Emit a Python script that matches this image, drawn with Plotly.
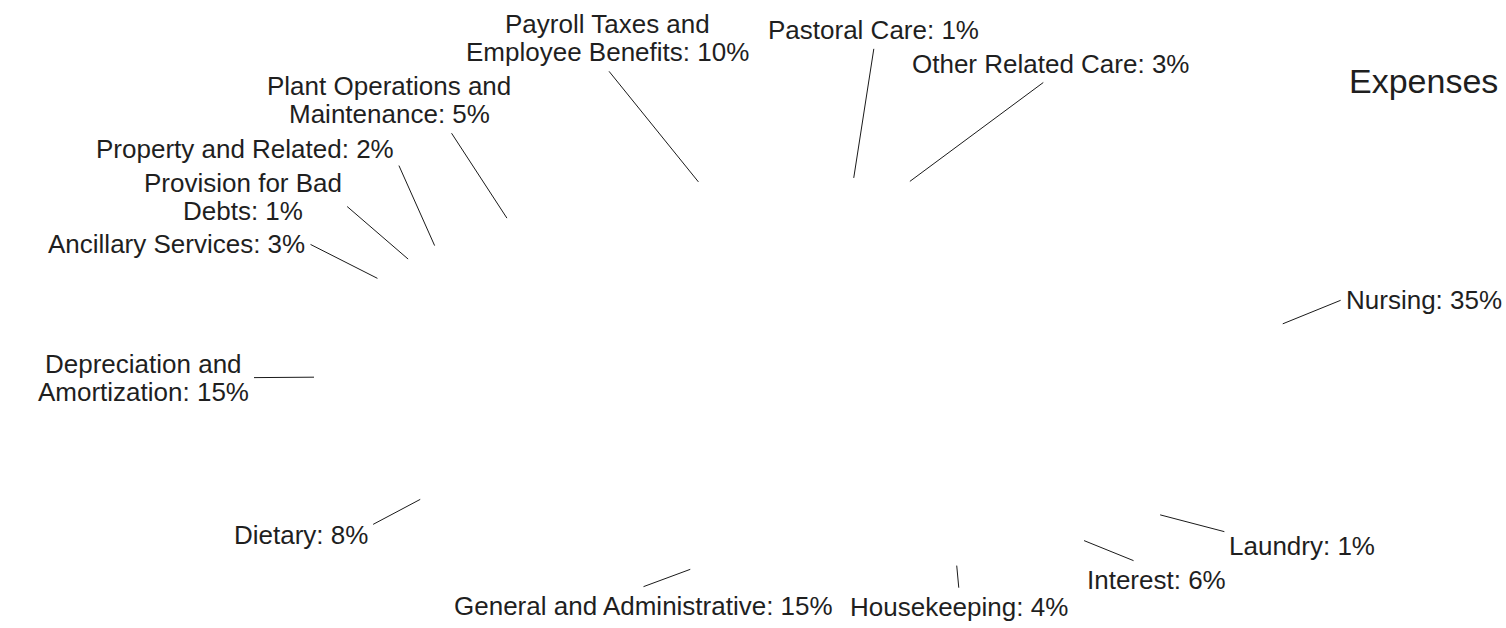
import math
import plotly.graph_objects as go

# ---- data ----
categories = ["Nursing", "Laundry", "Interest", "Housekeeping",
              "General and Administrative", "Dietary",
              "Depreciation and Amortization", "Ancillary Services",
              "Provision for Bad Debts", "Property and Related",
              "Plant Operations and Maintenance",
              "Payroll Taxes and Employee Benefits", "Pastoral Care",
              "Other Related Care"]
values = [35, 1, 6, 4, 15, 8, 15, 3, 1, 2, 5, 10, 1, 3]
label_lines = [["Nursing"], ["Laundry"], ["Interest"], ["Housekeeping"],
               ["General and Administrative"], ["Dietary"],
               ["Depreciation and", "Amortization"], ["Ancillary Services"],
               ["Provision for Bad", "Debts"], ["Property and Related"],
               ["Plant Operations and", "Maintenance"],
               ["Payroll Taxes and", "Employee Benefits"], ["Pastoral Care"],
               ["Other Related Care"]]
title_text = "Expenses"

# ---- layout parameters ----
W, H = 1506, 628
CX, CY, RX, RY = 807, 376, 493, 199   # ellipse of the (white) pie, in px
OA, OB_TOP, OB_BOT = 553, 330, 218     # ellipse on which label anchors sit
START = 73.0                           # angle where the first slice starts
FS = 26
PITCH = 28
GAP = 5
TXT = "#1f1f1f"
FONT = "Liberation Sans, Arial, sans-serif"

GW = {c: .667 for c in "ABEKPSVXY"}
GW.update({c: .722 for c in "CDHNRUw"})
GW.update({c: .778 for c in "GOQ"})
GW.update({"F": .611, "T": .611, "Z": .611, "I": .278, "J": .5, "L": .556,
           "M": .833, "W": .944, "m": .833, "%": .889, "c": .5, "k": .5,
           "s": .5, "v": .5, "x": .5, "y": .5, "z": .5, "f": .278, "t": .278,
           "r": .333, "i": .222, "j": .222, "l": .222, ":": .278, " ": .278})


def line_w(s):
    return sum(GW.get(ch, .556) for ch in s) * FS


total = float(sum(values))
items = []
cum = 0.0
for i, v in enumerate(values):
    mid = cum + v / 2.0
    ang = START - mid / total * 360.0          # decreasing = clockwise
    t = math.radians(ang)
    lines = list(label_lines[i])
    lines[-1] = f"{lines[-1]}: {v}%"
    items.append(dict(i=i, ang=ang, ang2=ang,
                      ix=CX + RX * math.cos(t), iy=CY - RY * math.sin(t),
                      lines=lines, w=max(line_w(s) for s in lines),
                      h=len(lines) * PITCH,
                      a0=START - cum / total * 360.0,
                      a1=START - (cum + v) / total * 360.0))
    cum += v


def clip01(x):
    return max(0.0, min(1.0, x))


def anchor(it):
    t = math.radians(it["ang2"])
    c, s = math.cos(t), math.sin(t)
    ob = OB_BOT + (OB_TOP - OB_BOT) * (0.5 + 0.5 * s)
    ox, oy = CX + OA * c, CY - ob * s
    w, h = it["w"], it["h"]
    hw, hh = w / 2 + GAP, h / 2 + GAP
    offx = math.copysign(clip01((abs(c) - 0.3) / 0.55) ** 2, c) * hw
    offy = -math.copysign(clip01((abs(s) - 0.45) / 0.4), s) * hh
    # push the block out so that the anchor sits on its (padded) edge
    kx = hw / abs(offx) if abs(offx) > 1e-6 else 1e9
    ky = hh / abs(offy) if abs(offy) > 1e-6 else 1e9
    k = min(kx, ky)
    if k > 1:
        offx *= k
        offy *= k
    xc, yc = ox + offx, oy + offy
    box = [xc - w / 2, yc - h / 2, xc + w / 2, yc + h / 2]
    # keep inside the canvas (the anchor follows the block)
    dx = dy = 0.0
    if box[0] < 2:
        dx = 2 - box[0]
    if box[2] > W - 2:
        dx = (W - 2) - box[2]
    if box[1] < 2:
        dy = 2 - box[1]
    if box[3] > H - 2:
        dy = (H - 2) - box[3]
    box = [box[0] + dx, box[1] + dy, box[2] + dx, box[3] + dy]
    if dy:
        oy += dy
    return ox, oy, box


def hit(b1, b2, px=16, py=5):
    return not (b1[2] + px <= b2[0] or b2[2] + px <= b1[0] or
                b1[3] + py <= b2[1] or b2[3] + py <= b1[1])


title_box = [1330, 62, W, 104]
seq = list(items)                      # clockwise order, angles decreasing
n = len(seq)
STEP = 0.25
for _ in range(4000):
    moved = False
    boxes = [anchor(it)[2] for it in seq]
    for a in range(n):
        for b in range(a + 1, n):
            if hit(boxes[a], boxes[b]):
                ia, ib = seq[a], seq[b]
                if ia["ang2"] - ib["ang2"] < 180:
                    ia["ang2"] += STEP; ib["ang2"] -= STEP
                else:
                    ia["ang2"] -= STEP; ib["ang2"] += STEP
                moved = True
        if hit(boxes[a], title_box):
            seq[a]["ang2"] -= STEP
            moved = True
    if not moved:
        break

for it in items:
    it["ox"], it["oy"], it["box"] = anchor(it)


def to_x(px):
    return (px - CX) / RX


def to_y(py):
    return (CY - py) / RY


fig = go.Figure()

# white (invisible) slices drawn on the ellipse
for it in items:
    m = max(4, int(abs(it["a0"] - it["a1"]) / 2) + 2)
    xs, ys = [0.0], [0.0]
    for k in range(m + 1):
        a = math.radians(it["a0"] + (it["a1"] - it["a0"]) * k / m)
        xs.append(math.cos(a))
        ys.append(math.sin(a))
    xs.append(0.0)
    ys.append(0.0)
    fig.add_trace(go.Scatter(x=xs, y=ys, mode="lines", fill="toself",
                             fillcolor="white", line=dict(width=0, color="white"),
                             name=categories[it["i"]], hoverinfo="text",
                             text=f"{categories[it['i']]}: {values[it['i']]}%",
                             showlegend=False))

# leader lines: from the slice edge to the label anchor
lx, ly = [], []
for it in items:
    lx += [to_x(it["ix"]), to_x(it["ox"]), None]
    ly += [to_y(it["iy"]), to_y(it["oy"]), None]
fig.add_trace(go.Scatter(x=lx, y=ly, mode="lines",
                         line=dict(color="#1a1a1a", width=1),
                         hoverinfo="skip", showlegend=False))

# labels: one annotation per text line, centred in the label block
for it in items:
    b = it["box"]
    xc = (b[0] + b[2]) / 2
    for k, s in enumerate(it["lines"]):
        yc = b[1] + PITCH / 2 + k * PITCH
        fig.add_annotation(x=to_x(xc), y=to_y(yc), xref="x", yref="y",
                           text=s, showarrow=False, xanchor="center",
                           yanchor="middle",
                           font=dict(size=FS, color=TXT, family=FONT))

fig.add_annotation(x=1500 / W, y=1 - 81 / H, xref="paper", yref="paper",
                   text=title_text, showarrow=False, xanchor="right",
                   yanchor="middle", font=dict(size=34, color=TXT, family=FONT))

fig.update_xaxes(visible=False, range=[to_x(0), to_x(W)], fixedrange=True)
fig.update_yaxes(visible=False, range=[to_y(H), to_y(0)], fixedrange=True)
fig.update_layout(width=W, height=H, margin=dict(l=0, r=0, t=0, b=0),
                  paper_bgcolor="white", plot_bgcolor="white",
                  showlegend=False, font=dict(family=FONT, color=TXT))

fig.write_html("out.html", config={"displayModeBar": False},
               post_script="document.body.style.margin='0';"
                           "document.body.style.overflow='hidden';")
